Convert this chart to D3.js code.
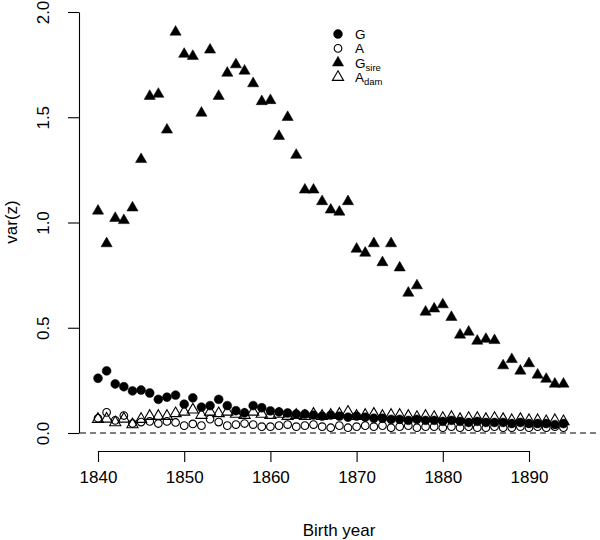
<!DOCTYPE html>
<html>
<head>
<meta charset="utf-8">
<script src="https://cdn.jsdelivr.net/npm/d3@7"></script>
<style>
    body { margin: 0; background: #fff; }
    text { font-family: "Liberation Sans", Arial, sans-serif; fill: #000; }
    .axis path, .axis line { stroke: #000; stroke-width: 1.1; }
</style>
</head>
<body>
<div id="main"></div>
<script>
var cfg = {
    width: 600,
    height: 540,
};

// birth years 1840..1894
var years = d3.range(1840, 1895);

var gVals = [
    0.26, 0.295, 0.233, 0.22, 0.2, 0.204, 0.19, 0.16, 0.17, 0.18,
    0.137, 0.167, 0.123, 0.13, 0.16, 0.13, 0.106, 0.096, 0.13, 0.12,
    0.105, 0.1, 0.095, 0.09, 0.09, 0.085, 0.08, 0.085, 0.08, 0.075,
    0.08, 0.075, 0.07, 0.07, 0.065, 0.065, 0.06, 0.065, 0.06, 0.06,
    0.055, 0.06, 0.055, 0.05, 0.055, 0.05, 0.05, 0.05, 0.045, 0.05,
    0.045, 0.045, 0.045, 0.04, 0.045
];

var aVals = [
    0.07, 0.098, 0.06, 0.083, 0.045, 0.052, 0.055, 0.045, 0.055, 0.05,
    0.035, 0.043, 0.035, 0.066, 0.052, 0.035, 0.04, 0.045, 0.04, 0.03,
    0.03, 0.035, 0.04, 0.03, 0.035, 0.04, 0.03, 0.025, 0.035, 0.025,
    0.03, 0.035, 0.03, 0.035, 0.025, 0.03, 0.035, 0.025, 0.03, 0.03,
    0.025, 0.03, 0.025, 0.03, 0.025, 0.025, 0.03, 0.025, 0.025, 0.03,
    0.025, 0.03, 0.025, 0.03, 0.025
];

var gSireVals = [
    1.055, 0.9, 1.02, 1.01, 1.07, 1.3, 1.6, 1.61, 1.44, 1.905,
    1.8, 1.79, 1.52, 1.82, 1.6, 1.71, 1.75, 1.72, 1.66, 1.575,
    1.58, 1.41, 1.5, 1.32, 1.155, 1.155, 1.1, 1.06, 1.05, 1.1,
    0.874, 0.855, 0.9, 0.81, 0.9, 0.785, 0.665, 0.7, 0.575, 0.59,
    0.61, 0.55, 0.466, 0.48, 0.437, 0.446, 0.44, 0.32, 0.35, 0.295,
    0.33, 0.276, 0.256, 0.233, 0.233
];

var aDamVals = [
    0.066, 0.067, 0.05, 0.067, 0.04, 0.066, 0.08, 0.08, 0.08, 0.093,
    0.1, 0.11, 0.085, 0.1, 0.093, 0.1, 0.09, 0.085, 0.1, 0.09,
    0.085, 0.09, 0.08, 0.085, 0.08, 0.09, 0.08, 0.085, 0.09, 0.1,
    0.08, 0.085, 0.09, 0.08, 0.085, 0.085, 0.08, 0.075, 0.08, 0.075,
    0.07, 0.075, 0.065, 0.07, 0.07, 0.065, 0.07, 0.065, 0.06, 0.065,
    0.06, 0.06, 0.055, 0.06, 0.055
];

var xTicks = [1840, 1850, 1860, 1870, 1880, 1890];
var yTicks = [0, 0.5, 1, 1.5, 2];

// G, A, Gsire, Adam -> symbol + fill
var series = [
    { name: "G", sub: "", vals: gVals, shape: "circle", filled: true },
    { name: "A", sub: "", vals: aVals, shape: "circle", filled: false },
    { name: "G", sub: "sire", vals: gSireVals, shape: "triangle", filled: true },
    { name: "A", sub: "dam", vals: aDamVals, shape: "triangle", filled: false },
];

var x = d3.scaleLinear().domain([1840, 1890]).range([98, 529]);
var y = d3.scaleLinear().domain([0, 2]).range([433, 12]);

function symbolPath(s) {
    if (s.shape == "circle") {
        return d3.symbol().type(d3.symbolCircle).size(s.filled ? 62 : 46)();
    }
    return d3.symbol().type(d3.symbolTriangle).size(54)();
}

var svg = d3
    .select("#main")
    .append("svg")
    .attr("width", cfg.width)
    .attr("height", cfg.height);

svg.append("rect")
    .attr("width", cfg.width)
    .attr("height", cfg.height)
    .attr("fill", "#fff");

// y axis
var yAxis = svg
    .append("g")
    .attr("class", "axis")
    .attr("transform", "translate(79,0)")
    .call(d3.axisLeft(y).tickValues(yTicks).tickSize(11).tickSizeOuter(0).tickFormat(d3.format(".1f")));
yAxis.select(".domain").attr("fill", "none");
yAxis.selectAll("text")
    .attr("x", null)
    .attr("dy", null)
    .attr("font-size", 17)
    .attr("text-anchor", "middle")
    .attr("transform", "translate(-30,0) rotate(-90)");

// x axis
var xAxis = svg
    .append("g")
    .attr("class", "axis")
    .attr("transform", "translate(0,451)")
    .call(d3.axisBottom(x).tickValues(xTicks).tickSize(11).tickSizeOuter(0).tickPadding(9).tickFormat(d3.format("d")));
xAxis.select(".domain").attr("fill", "none");
xAxis.selectAll("text").attr("font-size", 17);

svg.selectAll(".axis text").attr("font-family", "Liberation Sans, Arial, sans-serif");

// axis titles
svg.append("text")
    .attr("transform", "translate(17,222) rotate(-90)")
    .attr("text-anchor", "middle")
    .attr("font-size", 17)
    .text("var(z)");

svg.append("text")
    .attr("x", 339)
    .attr("y", 536)
    .attr("text-anchor", "middle")
    .attr("font-size", 17)
    .text("Birth year");

// zero reference line
svg.append("line")
    .attr("x1", 80)
    .attr("x2", 600)
    .attr("y1", y(0))
    .attr("y2", y(0))
    .attr("stroke", "#000")
    .attr("stroke-width", 1.1)
    .attr("stroke-dasharray", "6,4");

// points
series.forEach(function (s) {
    svg.append("g")
        .selectAll("path")
        .data(s.vals)
        .enter()
        .append("path")
        .attr("transform", function (d, i) {
            return "translate(" + x(years[i]) + "," + y(d) + ")";
        })
        .attr("d", symbolPath(s))
        .attr("fill", s.filled ? "#000" : "none")
        .attr("stroke", "#000")
        .attr("stroke-width", s.filled ? 0.5 : 1.1);
});

// legend
var legend = svg
    .append("g")
    .selectAll("g")
    .data(series)
    .enter()
    .append("g")
    .attr("transform", function (d, i) {
        return "translate(338," + (34 + i * 14.4) + ")";
    });

legend.append("path")
    .attr("d", function (d) { return symbolPath(d); })
    .attr("fill", function (d) { return d.filled ? "#000" : "none"; })
    .attr("stroke", "#000")
    .attr("stroke-width", function (d) { return d.filled ? 0.5 : 1.1; });

var lt = legend.append("text")
    .attr("x", 17)
    .attr("y", 5)
    .attr("font-size", 13.5);
lt.append("tspan").text(function (d) { return d.name; });
lt.append("tspan")
    .attr("font-size", 9.5)
    .attr("dy", 3)
    .text(function (d) { return d.sub; });
</script>
</body>
</html>
